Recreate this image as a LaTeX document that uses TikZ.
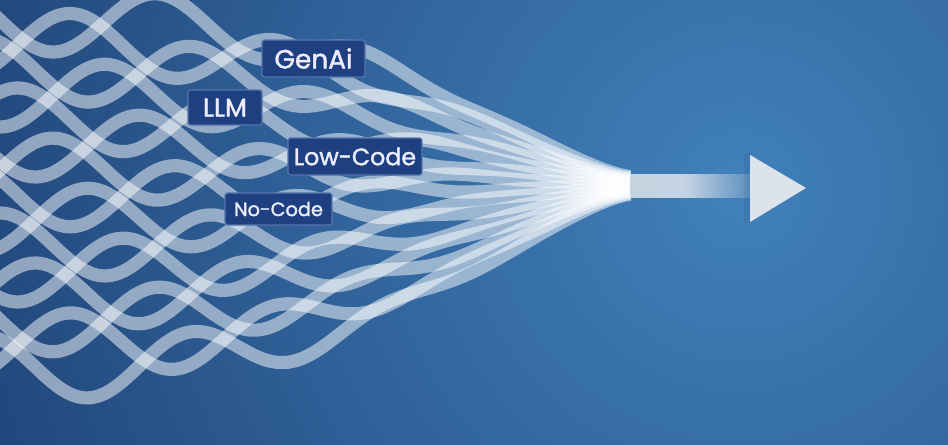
\documentclass[tikz,border=0pt]{standalone}
\usepackage{fontspec}
\setmainfont{Poppins}[FakeBold=1.6]
\usetikzlibrary{fadings}

\definecolor{bgdark}{HTML}{173467}
\definecolor{bglight}{HTML}{4181BB}
\definecolor{tagfill}{HTML}{1F4080}
\definecolor{tagline}{HTML}{5575AC}
\definecolor{tipgray}{HTML}{DDE3EA}

\begin{document}
\begin{tikzpicture}[line cap=round,line join=round,x=0.02cm,y=-0.02cm,
  declare function={env(\t)=(1-(\t/632)*(\t/632)*(\t/632))*sqrt(1-(\t/632)*(\t/632)*(\t/632));
    wy(\t,\b,\p)=185+(.05+.95*env(\t))*\b+env(\t)*env(\t)*env(\t)*32*sin(1.7*\t+\p);},
  band/.style={draw=white,draw opacity=.5,line width=7.5pt,line cap=butt},
  tag/.style={fill=tagfill,draw=tagline,line width=.7pt,rounded corners=1.5pt,
    text=white!93!blue,inner sep=0pt,font=\bfseries}]

\useasboundingbox (0,0) rectangle (948,444);
\begin{scope}
\clip (0,0) rectangle (948,444);
\shade[inner color=bglight,outer color=bgdark] (740,190) circle (1050);

% woven bands
\draw[band] plot[domain=-20:630,samples=100,smooth] (\x,{wy(\x,-165,0)});
\draw[band] plot[domain=-20:630,samples=100,smooth] (\x,{wy(\x,-140,150)});
\draw[band] plot[domain=-20:630,samples=100,smooth] (\x,{wy(\x,-115,300)});
\draw[band] plot[domain=-20:630,samples=100,smooth] (\x,{wy(\x,-90,90)});
\draw[band] plot[domain=-20:630,samples=100,smooth] (\x,{wy(\x,-65,240)});
\draw[band] plot[domain=-20:630,samples=100,smooth] (\x,{wy(\x,-40,30)});
\draw[band] plot[domain=-20:630,samples=100,smooth] (\x,{wy(\x,-15,180)});
\draw[band] plot[domain=-20:630,samples=100,smooth] (\x,{wy(\x,10,330)});
\draw[band] plot[domain=-20:630,samples=100,smooth] (\x,{wy(\x,35,120)});
\draw[band] plot[domain=-20:630,samples=100,smooth] (\x,{wy(\x,60,270)});
\draw[band] plot[domain=-20:630,samples=100,smooth] (\x,{wy(\x,85,60)});
\draw[band] plot[domain=-20:630,samples=100,smooth] (\x,{wy(\x,110,210)});
\draw[band] plot[domain=-20:630,samples=100,smooth] (\x,{wy(\x,135,0)});
\draw[band] plot[domain=-20:630,samples=100,smooth] (\x,{wy(\x,160,150)});
\draw[band] plot[domain=-20:630,samples=100,smooth] (\x,{wy(\x,182,300)});
\end{scope}

% trunk and head
\coordinate (merge) at (629.5,185.5);
\coordinate (tip) at (750,188);
\fill[tipgray,opacity=.85] (merge) ++(0,-12) rectangle (685,198);
\fill[tipgray,opacity=.85,path fading=east] (685,173.5) rectangle (766,198);
\fill[black,opacity=.06] (744,153) rectangle (750,223);
\fill[tipgray] (tip) ++(0,-33) -- (806,188) -- (750,222) -- cycle;

\node[tag,font=\fontsize{15}{15}\selectfont,minimum width=2.06cm,minimum height=.74cm] (genai) at (313.5,58.5) {GenAi};
\node[tag,font=\fontsize{14.5}{15}\selectfont,minimum width=1.48cm,minimum height=.70cm] (llm) at (225,107.5) {LLM};
\node[tag,font=\fontsize{13.5}{14}\selectfont,minimum width=2.68cm,minimum height=.74cm] (lowcode) at (355,156.5) {Low-Code};
\node[tag,font=\fontsize{11}{12}\selectfont,minimum width=2.14cm,minimum height=.64cm] (nocode) at (278.5,209) {No-Code};

\end{tikzpicture}
\end{document}
